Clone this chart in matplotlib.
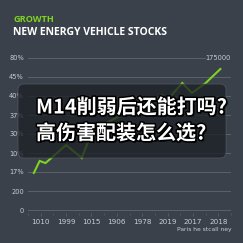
import numpy as np
import matplotlib
matplotlib.use('Agg')
import matplotlib.pyplot as plt
import matplotlib.patheffects as pe
from matplotlib.patches import FancyBboxPatch

# data
years = ['1010', '1999', '1015', '1906', '1978', '2019', '2017', '2018']
y_labels = ['0', '200', '17%', '10%', '30%', '37%', '40%', '45%', '80%']
line_x = [-0.27, -0.04, 0.19, 0.42, 1.0, 1.62, 1.85, 2.65, 3.6, 4.8, 4.95, 5.58, 5.96, 6.5, 7.08]
line_y = [1.95, 2.58, 2.47, 2.74, 3.42, 2.74, 3.53, 4.63, 5.26, 6.05, 5.74, 6.68, 6.16, 6.68, 7.42]
top_value = '175000'
source_note = 'Paris he stcall ney'
title_small = 'GROWTH'
title_big = 'NEW ENERGY VEHICLE STOCKS'
overlay = ['M14削弱后还能打吗?', '高伤害配装怎么选?']

bg = '#3a414b'
green = '#7ed321'
grid_c = '#59616b'
txt_c = '#c9cdd3'

fig = plt.figure(figsize=(2.43, 2.43), dpi=100)
fig.patch.set_facecolor(bg)

W = 243.0
def fx(px):
    return px / W
def fy(px):
    return 1 - px / W

# axes spans pixel 28..231 horizontally, 52..213 vertically
ax = fig.add_axes([fx(28), fy(213), fx(231) - fx(28), fy(52) - fy(213)])
ax.set_facecolor(bg)
ax.set_xlim((28 - 38) / 26.0, (231 - 38) / 26.0)
ax.set_ylim((210 - 213) / 19.0, (210 - 52) / 19.0)

for i in range(len(y_labels)):
    xmax = 0.87 if i == len(y_labels) - 1 else 1.0
    ax.axhline(i, xmin=0, xmax=xmax, color=grid_c, lw=0.7, zorder=1)

ax.plot(line_x, line_y, color=green, lw=1.5, zorder=3, solid_joinstyle='miter')

ax.set_yticks(range(len(y_labels)))
ax.set_yticklabels(y_labels)
ax.set_xticks(range(len(years)))
ax.set_xticklabels(years)
ax.set_xticks(np.arange(-0.5, len(years), 0.5), minor=True)
ax.tick_params(axis='y', length=0, labelsize=4.8, labelcolor=txt_c, pad=3)
ax.tick_params(axis='x', which='major', length=2.5, width=0.6, color=grid_c,
               labelsize=5.2, labelcolor=txt_c, pad=2)
ax.tick_params(axis='x', which='minor', length=1.5, width=0.5, color=grid_c)
for s in ax.spines.values():
    s.set_visible(False)

ax.text(1.0, 8, top_value, transform=ax.get_yaxis_transform(), ha='right', va='center',
        fontsize=4.8, color=txt_c)

fig.text(fx(231), fy(229), source_note, ha='right', va='center', fontsize=4.3, color=txt_c)

fig.text(fx(13), fy(19), title_small, ha='left', va='center', fontsize=6.6,
         fontweight='bold', color=green, family='Open Sans')
fig.text(fx(13), fy(32), title_big, ha='left', va='center', fontsize=7.5,
         fontweight='bold', color='white', family='Open Sans')

# overlay card
box = FancyBboxPatch((fx(18), fy(158)), fx(208), fx(74),
                     boxstyle='round,pad=0.0,rounding_size=0.025',
                     transform=fig.transFigure, facecolor='#1d2126', alpha=0.78,
                     edgecolor='#555b63', lw=0.6, zorder=5)
fig.patches.append(box)

fx_eff = [pe.SimplePatchShadow(offset=(1.2, -1.2), shadow_rgbFace='black', alpha=0.8),
          pe.withStroke(linewidth=2.2, foreground='black')]
for k, t in enumerate(overlay):
    fig.text(fx(36), fy(107 + 26 * k), t, ha='left', va='center', fontsize=14.4,
             fontweight='bold', color='white', zorder=6,
             family=['Noto Sans CJK SC', 'DejaVu Sans'], path_effects=fx_eff)

fig.savefig('out.png', dpi=100, facecolor=bg)
